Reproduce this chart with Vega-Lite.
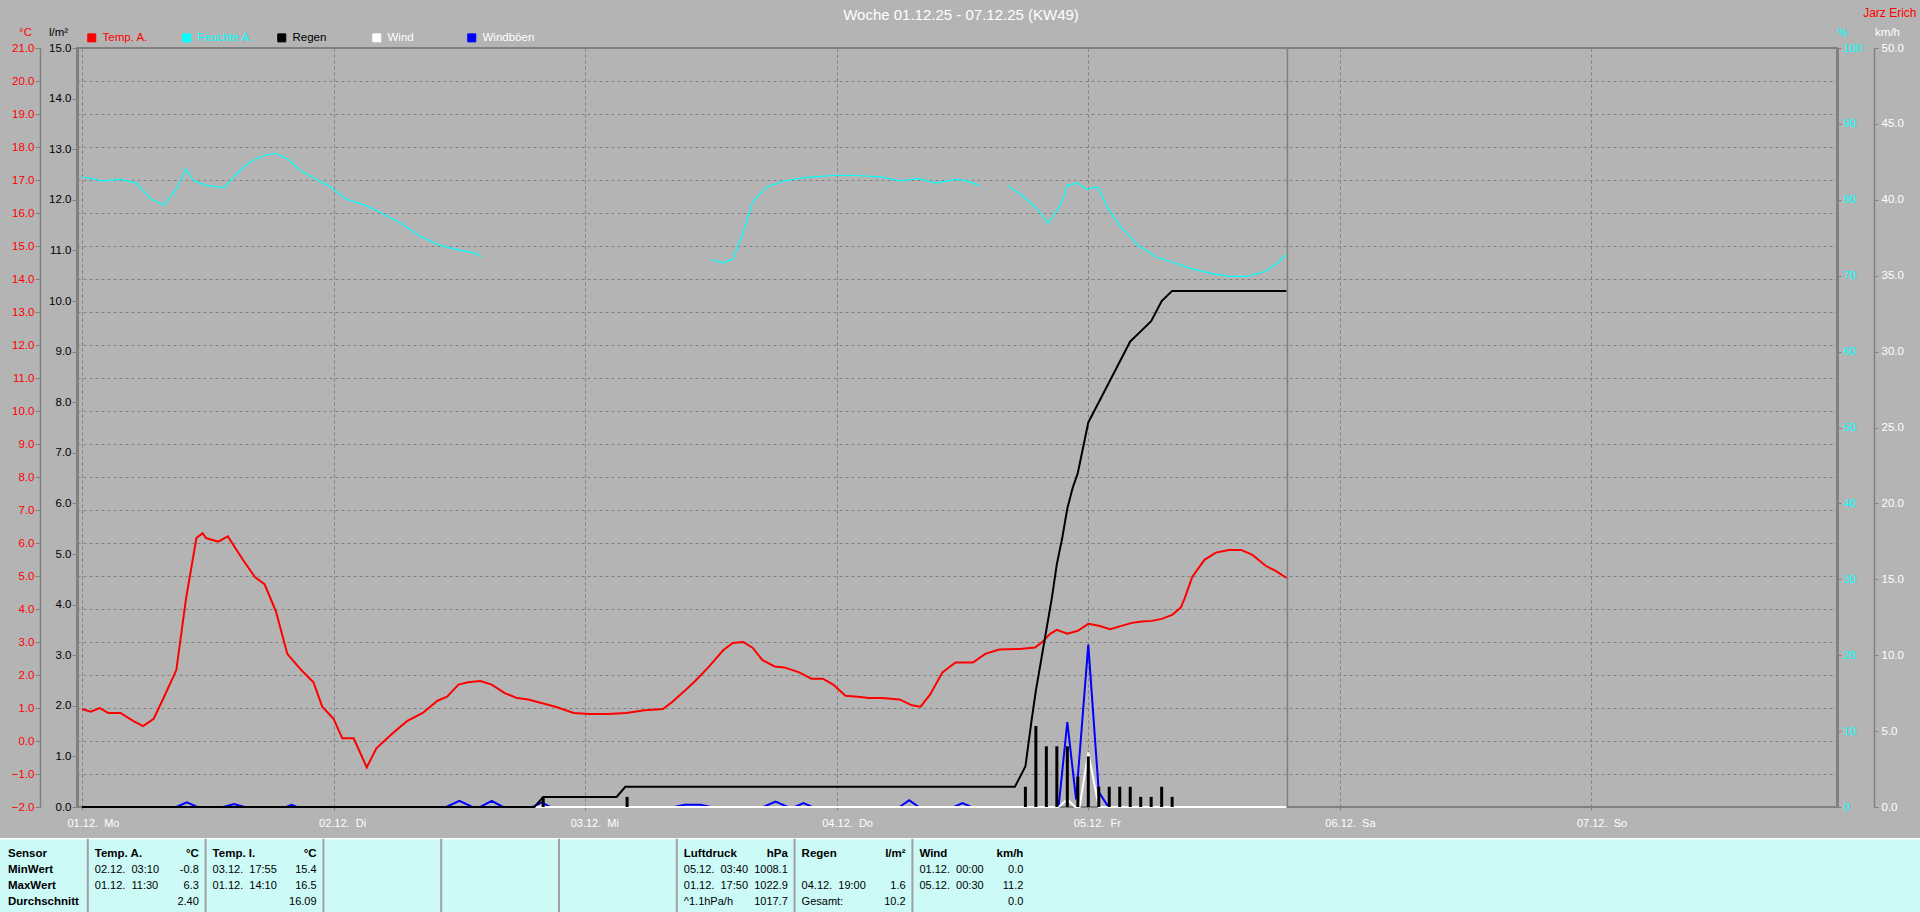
{
  "$schema": "https://vega.github.io/schema/vega-lite/v6.json",
  "width": 1760,
  "height": 759,
  "autosize": "none",
  "padding": {"left": 77, "top": 48, "right": 83, "bottom": 105},
  "background": "#B4B4B4",
  "title": {
    "text": "Woche 01.12.25 - 07.12.25 (KW49)",
    "color": "#FFFFFF", "font": "Liberation Sans", "fontSize": 15, "fontWeight": "normal",
    "anchor": "middle", "frame": "group", "dx": 4, "offset": -17
  },
  "config": {
    "font": "Liberation Sans",
    "view": {"stroke": "#808080", "strokeWidth": 2},
    "axis": {
      "domainColor": "#808080", "tickColor": "#808080", "gridColor": "#808080", "gridDash": [3, 3],
      "labelFont": "Liberation Sans", "labelFontSize": 11.5, "titleFont": "Liberation Sans", "titleFontSize": 11.5,
      "titleFontWeight": "normal", "grid": false
    }
  },
  "datasets": {
    "temp": [
      {"t":"2025-12-01T00:00:00Z","v":0.97},{"t":"2025-12-01T00:50:00Z","v":0.89},{"t":"2025-12-01T01:40:00Z","v":1.0},
      {"t":"2025-12-01T02:30:00Z","v":0.85},{"t":"2025-12-01T03:40:00Z","v":0.85},{"t":"2025-12-01T04:55:00Z","v":0.6},
      {"t":"2025-12-01T05:50:00Z","v":0.45},{"t":"2025-12-01T06:50:00Z","v":0.67},{"t":"2025-12-01T07:50:00Z","v":1.34},
      {"t":"2025-12-01T09:00:00Z","v":2.15},{"t":"2025-12-01T09:55:00Z","v":4.3},{"t":"2025-12-01T10:55:00Z","v":6.15},
      {"t":"2025-12-01T11:30:00Z","v":6.3},{"t":"2025-12-01T11:50:00Z","v":6.15},{"t":"2025-12-01T13:00:00Z","v":6.04},
      {"t":"2025-12-01T13:55:00Z","v":6.2},{"t":"2025-12-01T15:20:00Z","v":5.5},{"t":"2025-12-01T16:30:00Z","v":4.97},
      {"t":"2025-12-01T17:25:00Z","v":4.75},{"t":"2025-12-01T18:30:00Z","v":3.93},{"t":"2025-12-01T19:35:00Z","v":2.64},
      {"t":"2025-12-01T20:55:00Z","v":2.15},{"t":"2025-12-01T22:05:00Z","v":1.78},{"t":"2025-12-01T22:55:00Z","v":1.04},
      {"t":"2025-12-02T00:00:00Z","v":0.67},{"t":"2025-12-02T00:50:00Z","v":0.08},{"t":"2025-12-02T01:55:00Z","v":0.08},
      {"t":"2025-12-02T03:10:00Z","v":-0.8},{"t":"2025-12-02T04:05:00Z","v":-0.22},{"t":"2025-12-02T05:35:00Z","v":0.22},
      {"t":"2025-12-02T07:00:00Z","v":0.6},{"t":"2025-12-02T08:30:00Z","v":0.85},{"t":"2025-12-02T09:55:00Z","v":1.22},
      {"t":"2025-12-02T10:50:00Z","v":1.34},{"t":"2025-12-02T11:55:00Z","v":1.71},{"t":"2025-12-02T12:50:00Z","v":1.78},
      {"t":"2025-12-02T14:00:00Z","v":1.82},{"t":"2025-12-02T15:05:00Z","v":1.71},{"t":"2025-12-02T16:20:00Z","v":1.45},
      {"t":"2025-12-02T17:30:00Z","v":1.3},{"t":"2025-12-02T18:35:00Z","v":1.26},{"t":"2025-12-02T19:50:00Z","v":1.15},
      {"t":"2025-12-02T21:10:00Z","v":1.04},{"t":"2025-12-02T22:55:00Z","v":0.85},{"t":"2025-12-03T00:25:00Z","v":0.82},
      {"t":"2025-12-03T02:10:00Z","v":0.82},{"t":"2025-12-03T03:55:00Z","v":0.85},{"t":"2025-12-03T05:40:00Z","v":0.93},
      {"t":"2025-12-03T07:25:00Z","v":0.97},{"t":"2025-12-03T08:20:00Z","v":1.19},{"t":"2025-12-03T09:30:00Z","v":1.52},
      {"t":"2025-12-03T10:30:00Z","v":1.82},{"t":"2025-12-03T11:50:00Z","v":2.26},{"t":"2025-12-03T13:10:00Z","v":2.75},
      {"t":"2025-12-03T14:05:00Z","v":2.97},{"t":"2025-12-03T15:05:00Z","v":3.0},{"t":"2025-12-03T16:00:00Z","v":2.82},
      {"t":"2025-12-03T16:55:00Z","v":2.45},{"t":"2025-12-03T18:05:00Z","v":2.26},{"t":"2025-12-03T19:00:00Z","v":2.23},
      {"t":"2025-12-03T20:25:00Z","v":2.08},{"t":"2025-12-03T21:35:00Z","v":1.89},{"t":"2025-12-03T22:40:00Z","v":1.89},
      {"t":"2025-12-03T23:40:00Z","v":1.71},{"t":"2025-12-04T00:50:00Z","v":1.37},{"t":"2025-12-04T02:00:00Z","v":1.34},
      {"t":"2025-12-04T03:05:00Z","v":1.3},{"t":"2025-12-04T04:20:00Z","v":1.3},{"t":"2025-12-04T06:00:00Z","v":1.26},
      {"t":"2025-12-04T07:10:00Z","v":1.08},{"t":"2025-12-04T08:00:00Z","v":1.04},{"t":"2025-12-04T08:55:00Z","v":1.41},
      {"t":"2025-12-04T10:05:00Z","v":2.08},{"t":"2025-12-04T11:20:00Z","v":2.38},{"t":"2025-12-04T13:00:00Z","v":2.38},
      {"t":"2025-12-04T14:10:00Z","v":2.64},{"t":"2025-12-04T15:30:00Z","v":2.77},{"t":"2025-12-04T17:25:00Z","v":2.79},
      {"t":"2025-12-04T18:55:00Z","v":2.83},{"t":"2025-12-04T19:35:00Z","v":2.99},{"t":"2025-12-04T20:20:00Z","v":3.24},
      {"t":"2025-12-04T21:00:00Z","v":3.37},{"t":"2025-12-04T22:00:00Z","v":3.25},{"t":"2025-12-04T23:00:00Z","v":3.34},
      {"t":"2025-12-05T00:00:00Z","v":3.55},{"t":"2025-12-05T01:00:00Z","v":3.49},{"t":"2025-12-05T02:05:00Z","v":3.39},
      {"t":"2025-12-05T03:05:00Z","v":3.48},{"t":"2025-12-05T04:10:00Z","v":3.58},{"t":"2025-12-05T05:05:00Z","v":3.62},
      {"t":"2025-12-05T06:05:00Z","v":3.64},{"t":"2025-12-05T07:00:00Z","v":3.7},{"t":"2025-12-05T08:00:00Z","v":3.82},
      {"t":"2025-12-05T08:50:00Z","v":4.05},{"t":"2025-12-05T09:10:00Z","v":4.3},{"t":"2025-12-05T09:55:00Z","v":4.97},
      {"t":"2025-12-05T11:05:00Z","v":5.49},{"t":"2025-12-05T12:10:00Z","v":5.71},{"t":"2025-12-05T13:25:00Z","v":5.79},
      {"t":"2025-12-05T14:35:00Z","v":5.79},{"t":"2025-12-05T15:40:00Z","v":5.64},{"t":"2025-12-05T16:55:00Z","v":5.31},
      {"t":"2025-12-05T17:50:00Z","v":5.16},{"t":"2025-12-05T18:55:00Z","v":4.94}
    ],
    "hum": [
      {"t":"2025-12-01T00:00:00Z","v":83.0,"s":1},{"t":"2025-12-01T02:00:00Z","v":82.5,"s":1},{"t":"2025-12-01T03:40:00Z","v":82.7,"s":1},
      {"t":"2025-12-01T05:10:00Z","v":82.2,"s":1},{"t":"2025-12-01T06:35:00Z","v":80.1,"s":1},{"t":"2025-12-01T07:50:00Z","v":79.3,"s":1},
      {"t":"2025-12-01T09:00:00Z","v":81.4,"s":1},{"t":"2025-12-01T09:55:00Z","v":84.1,"s":1},{"t":"2025-12-01T10:40:00Z","v":82.5,"s":1},
      {"t":"2025-12-01T11:50:00Z","v":81.9,"s":1},{"t":"2025-12-01T13:35:00Z","v":81.6,"s":1},{"t":"2025-12-01T14:40:00Z","v":83.3,"s":1},
      {"t":"2025-12-01T15:55:00Z","v":84.9,"s":1},{"t":"2025-12-01T17:25:00Z","v":85.9,"s":1},{"t":"2025-12-01T18:30:00Z","v":86.1,"s":1},
      {"t":"2025-12-01T19:35:00Z","v":85.4,"s":1},{"t":"2025-12-01T20:55:00Z","v":83.8,"s":1},{"t":"2025-12-01T22:20:00Z","v":82.7,"s":1},
      {"t":"2025-12-01T23:30:00Z","v":81.9,"s":1},{"t":"2025-12-02T01:10:00Z","v":80.1,"s":1},{"t":"2025-12-02T03:00:00Z","v":79.3,"s":1},
      {"t":"2025-12-02T04:40:00Z","v":78.2,"s":1},{"t":"2025-12-02T06:25:00Z","v":76.9,"s":1},{"t":"2025-12-02T08:10:00Z","v":75.3,"s":1},
      {"t":"2025-12-02T09:55:00Z","v":74.1,"s":1},{"t":"2025-12-02T11:35:00Z","v":73.5,"s":1},{"t":"2025-12-02T13:25:00Z","v":73.0,"s":1},
      {"t":"2025-12-02T14:05:00Z","v":72.5,"s":1},
      {"t":"2025-12-03T12:00:00Z","v":72.1,"s":2},{"t":"2025-12-03T13:10:00Z","v":71.7,"s":2},{"t":"2025-12-03T14:05:00Z","v":72.2,"s":2},
      {"t":"2025-12-03T15:05:00Z","v":75.7,"s":2},{"t":"2025-12-03T16:00:00Z","v":79.8,"s":2},{"t":"2025-12-03T17:20:00Z","v":81.7,"s":2},
      {"t":"2025-12-03T19:00:00Z","v":82.5,"s":2},{"t":"2025-12-03T21:20:00Z","v":83.0,"s":2},{"t":"2025-12-03T23:40:00Z","v":83.2,"s":2},
      {"t":"2025-12-04T02:00:00Z","v":83.2,"s":2},{"t":"2025-12-04T04:20:00Z","v":83.0,"s":2},{"t":"2025-12-04T06:00:00Z","v":82.5,"s":2},
      {"t":"2025-12-04T07:50:00Z","v":82.8,"s":2},{"t":"2025-12-04T09:30:00Z","v":82.2,"s":2},{"t":"2025-12-04T11:20:00Z","v":82.7,"s":2},
      {"t":"2025-12-04T12:25:00Z","v":82.5,"s":2},{"t":"2025-12-04T13:35:00Z","v":81.9,"s":2},
      {"t":"2025-12-04T16:20:00Z","v":81.9,"s":3},{"t":"2025-12-04T17:40:00Z","v":80.6,"s":3},{"t":"2025-12-04T19:10:00Z","v":78.7,"s":3},
      {"t":"2025-12-04T20:10:00Z","v":76.9,"s":3},{"t":"2025-12-04T21:20:00Z","v":79.3,"s":3},{"t":"2025-12-04T22:00:00Z","v":81.9,"s":3},
      {"t":"2025-12-04T22:55:00Z","v":82.2,"s":3},{"t":"2025-12-04T23:50:00Z","v":81.4,"s":3},{"t":"2025-12-05T00:55:00Z","v":81.7,"s":3},
      {"t":"2025-12-05T01:50:00Z","v":79.0,"s":3},{"t":"2025-12-05T03:00:00Z","v":76.6,"s":3},{"t":"2025-12-05T04:40:00Z","v":74.1,"s":3},
      {"t":"2025-12-05T06:25:00Z","v":72.5,"s":3},{"t":"2025-12-05T08:10:00Z","v":71.7,"s":3},{"t":"2025-12-05T09:55:00Z","v":70.9,"s":3},
      {"t":"2025-12-05T11:40:00Z","v":70.3,"s":3},{"t":"2025-12-05T13:25:00Z","v":69.9,"s":3},{"t":"2025-12-05T15:10:00Z","v":69.9,"s":3},
      {"t":"2025-12-05T16:55:00Z","v":70.6,"s":3},{"t":"2025-12-05T18:05:00Z","v":71.7,"s":3},{"t":"2025-12-05T18:55:00Z","v":72.8,"s":3}
    ],
    "raincum": [
      {"t":"2025-12-01T00:00:00Z","v":0},{"t":"2025-12-02T19:10:00Z","v":0},{"t":"2025-12-02T20:00:00Z","v":0.2},
      {"t":"2025-12-03T03:00:00Z","v":0.2},{"t":"2025-12-03T03:50:00Z","v":0.4},{"t":"2025-12-04T17:00:00Z","v":0.4},
      {"t":"2025-12-04T18:00:00Z","v":0.8},{"t":"2025-12-04T18:35:00Z","v":1.7},{"t":"2025-12-04T19:00:00Z","v":2.3},
      {"t":"2025-12-04T19:30:00Z","v":2.9},{"t":"2025-12-04T20:00:00Z","v":3.5},{"t":"2025-12-04T20:30:00Z","v":4.1},
      {"t":"2025-12-04T21:00:00Z","v":4.8},{"t":"2025-12-04T21:30:00Z","v":5.3},{"t":"2025-12-04T22:00:00Z","v":5.9},
      {"t":"2025-12-04T22:30:00Z","v":6.3},{"t":"2025-12-04T23:00:00Z","v":6.6},{"t":"2025-12-04T23:30:00Z","v":7.1},
      {"t":"2025-12-05T00:00:00Z","v":7.6},{"t":"2025-12-05T01:00:00Z","v":8.0},{"t":"2025-12-05T02:00:00Z","v":8.4},
      {"t":"2025-12-05T03:00:00Z","v":8.8},{"t":"2025-12-05T04:00:00Z","v":9.2},{"t":"2025-12-05T05:00:00Z","v":9.4},
      {"t":"2025-12-05T06:00:00Z","v":9.6},{"t":"2025-12-05T07:00:00Z","v":10.0},{"t":"2025-12-05T08:00:00Z","v":10.2},
      {"t":"2025-12-05T18:55:00Z","v":10.2}
    ],
    "rainbar": [
      {"t":"2025-12-02T20:00:00Z","v":0.2},{"t":"2025-12-03T04:00:00Z","v":0.2},{"t":"2025-12-04T18:00:00Z","v":0.4},
      {"t":"2025-12-04T19:00:00Z","v":1.6},{"t":"2025-12-04T20:00:00Z","v":1.2},{"t":"2025-12-04T21:00:00Z","v":1.2},
      {"t":"2025-12-04T22:00:00Z","v":1.2},{"t":"2025-12-04T23:00:00Z","v":0.6},{"t":"2025-12-05T00:00:00Z","v":1.0},
      {"t":"2025-12-05T01:00:00Z","v":0.4},{"t":"2025-12-05T02:00:00Z","v":0.4},{"t":"2025-12-05T03:00:00Z","v":0.4},
      {"t":"2025-12-05T04:00:00Z","v":0.4},{"t":"2025-12-05T05:00:00Z","v":0.2},{"t":"2025-12-05T06:00:00Z","v":0.2},
      {"t":"2025-12-05T07:00:00Z","v":0.4},{"t":"2025-12-05T08:00:00Z","v":0.2}
    ],
    "wind": [
      {"t":"2025-12-01T00:00:00Z","v":0},{"t":"2025-12-04T21:10:00Z","v":0},{"t":"2025-12-04T22:00:00Z","v":0.5},
      {"t":"2025-12-04T22:45:00Z","v":0},{"t":"2025-12-04T23:10:00Z","v":0},{"t":"2025-12-05T00:00:00Z","v":3.6},
      {"t":"2025-12-05T01:00:00Z","v":0},{"t":"2025-12-05T18:55:00Z","v":0}
    ],
    "gust": [
      {"t":"2025-12-01T00:00:00Z","v":0},{"t":"2025-12-01T09:00:00Z","v":0},{"t":"2025-12-01T10:00:00Z","v":0.3},
      {"t":"2025-12-01T11:00:00Z","v":0},{"t":"2025-12-01T13:30:00Z","v":0},{"t":"2025-12-01T14:30:00Z","v":0.2},
      {"t":"2025-12-01T15:30:00Z","v":0},{"t":"2025-12-01T19:30:00Z","v":0},{"t":"2025-12-01T20:00:00Z","v":0.15},
      {"t":"2025-12-01T20:30:00Z","v":0},{"t":"2025-12-02T10:45:00Z","v":0},{"t":"2025-12-02T12:00:00Z","v":0.4},
      {"t":"2025-12-02T13:15:00Z","v":0},{"t":"2025-12-02T14:00:00Z","v":0},{"t":"2025-12-02T15:05:00Z","v":0.4},
      {"t":"2025-12-02T16:10:00Z","v":0},{"t":"2025-12-02T19:00:00Z","v":0},{"t":"2025-12-02T19:50:00Z","v":0.3},
      {"t":"2025-12-02T20:40:00Z","v":0},{"t":"2025-12-03T08:30:00Z","v":0},{"t":"2025-12-03T09:30:00Z","v":0.15},
      {"t":"2025-12-03T11:00:00Z","v":0.15},{"t":"2025-12-03T12:00:00Z","v":0},{"t":"2025-12-03T17:00:00Z","v":0},
      {"t":"2025-12-03T18:10:00Z","v":0.35},{"t":"2025-12-03T19:20:00Z","v":0},{"t":"2025-12-03T20:00:00Z","v":0},
      {"t":"2025-12-03T20:50:00Z","v":0.25},{"t":"2025-12-03T21:40:00Z","v":0},{"t":"2025-12-04T06:00:00Z","v":0},
      {"t":"2025-12-04T06:55:00Z","v":0.45},{"t":"2025-12-04T07:50:00Z","v":0},{"t":"2025-12-04T11:10:00Z","v":0},
      {"t":"2025-12-04T12:00:00Z","v":0.25},{"t":"2025-12-04T12:50:00Z","v":0},{"t":"2025-12-04T21:10:00Z","v":0},
      {"t":"2025-12-04T22:00:00Z","v":5.6},{"t":"2025-12-04T22:50:00Z","v":0.5},{"t":"2025-12-05T00:00:00Z","v":10.7},
      {"t":"2025-12-05T01:00:00Z","v":1.0},{"t":"2025-12-05T01:55:00Z","v":0},{"t":"2025-12-05T18:55:00Z","v":0}
    ],
    "now": [{"t":"2025-12-05T19:00:00Z"}],
    "table": [
      {"col":0,"row":0,"left":"Sensor","right":""},{"col":0,"row":1,"left":"MinWert","right":""},
      {"col":0,"row":2,"left":"MaxWert","right":""},{"col":0,"row":3,"left":"Durchschnitt","right":""},
      {"col":1,"row":0,"left":"Temp. A.","right":"°C"},{"col":1,"row":1,"left":"02.12.\u00a0 03:10","right":"-0.8"},
      {"col":1,"row":2,"left":"01.12.\u00a0 11:30","right":"6.3"},{"col":1,"row":3,"left":"","right":"2.40"},
      {"col":2,"row":0,"left":"Temp. I.","right":"°C"},{"col":2,"row":1,"left":"03.12.\u00a0 17:55","right":"15.4"},
      {"col":2,"row":2,"left":"01.12.\u00a0 14:10","right":"16.5"},{"col":2,"row":3,"left":"","right":"16.09"},
      {"col":6,"row":0,"left":"Luftdruck","right":"hPa"},{"col":6,"row":1,"left":"05.12.\u00a0 03:40","right":"1008.1"},
      {"col":6,"row":2,"left":"01.12.\u00a0 17:50","right":"1022.9"},{"col":6,"row":3,"left":"^1.1hPa/h","right":"1017.7"},
      {"col":7,"row":0,"left":"Regen","right":"l/m²"},{"col":7,"row":1,"left":"","right":""},
      {"col":7,"row":2,"left":"04.12.\u00a0 19:00","right":"1.6"},{"col":7,"row":3,"left":"Gesamt:","right":"10.2"},
      {"col":8,"row":0,"left":"Wind","right":"km/h"},{"col":8,"row":1,"left":"01.12.\u00a0 00:00","right":"0.0"},
      {"col":8,"row":2,"left":"05.12.\u00a0 00:30","right":"11.2"},{"col":8,"row":3,"left":"","right":"0.0"}
    ],
    "dividers": [{"col":1},{"col":2},{"col":3},{"col":4},{"col":5},{"col":6},{"col":7},{"col":8}]
  },
  "layer": [
    {
      "layer": [
        {
          "data": {"name": "hum"},
          "mark": {"type": "line", "strokeWidth": 1.2},
          "encoding": {
            "x": {
              "field": "t", "type": "temporal",
              "scale": {"type": "utc", "domain": [{"year":2025,"month":12,"date":1,"utc":true}, {"year":2025,"month":12,"date":7,"hours":22,"minutes":57,"utc":true}]},
              "axis": {
                "orient": "bottom", "title": null, "domain": false, "grid": true, "gridDash": [3, 3],
                "values": [
                  {"year":2025,"month":12,"date":1,"utc":true},{"year":2025,"month":12,"date":2,"utc":true},
                  {"year":2025,"month":12,"date":3,"utc":true},{"year":2025,"month":12,"date":4,"utc":true},
                  {"year":2025,"month":12,"date":5,"utc":true},{"year":2025,"month":12,"date":6,"utc":true},
                  {"year":2025,"month":12,"date":7,"utc":true}
                ],
                "labelExpr": "utcFormat(datum.value, '%d.%m.') + '\u00a0 ' + ['So','Mo','Di','Mi','Do','Fr','Sa'][utcday(datum.value)]",
                "labelColor": "#FFFFFF", "labelAlign": "left", "labelOffset": -15, "labelBaseline": "middle",
                "labelFontSize": 11,
                "labelPadding": 11, "tickSize": 5, "tickDash": [3, 3], "labelFlush": false, "labelOverlap": false
              }
            },
            "y": {
              "field": "v", "type": "quantitative",
              "scale": {"domain": [0, 100], "zero": false, "nice": false},
              "axis": {
                "orient": "right", "offset": 0, "values": [0,10,20,30,40,50,60,70,80,90,100], "format": "d",
                "labelColor": "#00FFFF", "tickSize": 4, "labelPadding": 2, "domainWidth": 3,
                "title": "%", "titleColor": "#00FFFF", "titleAngle": 0, "titleX": 5, "titleY": -16,
                "titleAlign": "center", "titleBaseline": "middle"
              }
            },
            "detail": {"field": "s", "type": "nominal"},
            "color": {
              "datum": "Feuchte A.", "type": "nominal",
              "scale": {"domain": ["Temp. A.", "Feuchte A.", "Regen", "Wind", "Windböen"], "range": ["#FF0000", "#00FFFF", "#000000", "#FFFFFF", "#0000FF"]},
              "legend": {
                "orient": "none", "legendX": 9, "legendY": -16, "direction": "horizontal", "title": null,
                "symbolType": "square", "symbolSize": 64, "symbolStrokeWidth": 1, "symbolOpacity": 1,
                "labelFont": "Liberation Sans", "labelFontSize": 11.5, "labelOffset": 5,
                "columnPadding": 21, "gridAlign": "all", "padding": 0,
                "encoding": {
                  "symbols": {
                    "fill": {"condition": [
                      {"test": "datum.value === 'Temp. A.'", "value": "#FF0000"},
                      {"test": "datum.value === 'Feuchte A.'", "value": "#00FFFF"},
                      {"test": "datum.value === 'Regen'", "value": "#000000"},
                      {"test": "datum.value === 'Wind'", "value": "#FFFFFF"}
                    ], "value": "#0000FF"},
                    "stroke": {"value": "#FFFFFF"},
                    "strokeWidth": {"value": 1}
                  },
                  "labels": {
                    "fill": {"condition": [
                      {"test": "datum.value === 'Temp. A.'", "value": "#FF0000"},
                      {"test": "datum.value === 'Feuchte A.'", "value": "#00FFFF"},
                      {"test": "datum.value === 'Regen'", "value": "#000000"}
                    ], "value": "#FFFFFF"}
                  }
                }
              }
            }
          }
        },
        {
          "data": {"name": "temp"},
          "mark": {"type": "line", "strokeWidth": 2},
          "encoding": {
            "x": {"field": "t", "type": "temporal"},
            "y": {
              "field": "v", "type": "quantitative",
              "scale": {"domain": [-2, 21], "zero": false, "nice": false},
              "axis": {
                "orient": "left", "offset": 37,
                "values": [-2,-1,0,1,2,3,4,5,6,7,8,9,10,11,12,13,14,15,16,17,18,19,20,21], "format": ".1f",
                "labelColor": "#FF0000", "tickSize": 5, "labelPadding": 1, "domainWidth": 1.5,
                "grid": true, "gridDash": [3, 3],
                "title": "°C", "titleColor": "#FF0000", "titleAngle": 0, "titleX": -15, "titleY": -16,
                "titleAlign": "center", "titleBaseline": "middle"
              }
            },
            "color": {"datum": "Temp. A.", "type": "nominal"}
          }
        },
        {
          "data": {"name": "gust"},
          "mark": {"type": "line", "strokeWidth": 2},
          "encoding": {
            "x": {"field": "t", "type": "temporal"},
            "y": {"field": "v", "type": "quantitative", "scale": {"domain": [0, 50], "nice": false}, "axis": null},
            "color": {"datum": "Windböen", "type": "nominal"}
          }
        },
        {
          "data": {"name": "wind"},
          "mark": {"type": "line", "strokeWidth": 2},
          "encoding": {
            "x": {"field": "t", "type": "temporal"},
            "y": {
              "field": "v", "type": "quantitative",
              "scale": {"domain": [0, 50], "nice": false},
              "axis": {
                "orient": "right", "offset": 37, "values": [0,5,10,15,20,25,30,35,40,45,50], "format": ".1f",
                "labelColor": "#FFFFFF", "tickSize": 4, "labelPadding": 3, "domainWidth": 1.5,
                "title": "km/h", "titleColor": "#FFFFFF", "titleAngle": 0, "titleX": 13, "titleY": -16,
                "titleAlign": "center", "titleBaseline": "middle"
              }
            },
            "color": {"datum": "Wind", "type": "nominal"}
          }
        },
        {
          "data": {"name": "rainbar"},
          "mark": {"type": "bar", "size": 3},
          "encoding": {
            "x": {"field": "t", "type": "temporal"},
            "y": {
              "field": "v", "type": "quantitative",
              "scale": {"domain": [0, 15], "nice": false},
              "axis": {
                "orient": "left", "offset": 0,
                "values": [0,1,2,3,4,5,6,7,8,9,10,11,12,13,14,15], "format": ".1f",
                "labelColor": "#000000", "tickSize": 5, "labelPadding": 1, "domainWidth": 3,
                "title": "l/m²", "titleColor": "#000000", "titleAngle": 0, "titleX": -19, "titleY": -16,
                "titleAlign": "center", "titleBaseline": "middle"
              }
            },
            "color": {"datum": "Regen", "type": "nominal"}
          }
        },
        {
          "data": {"name": "raincum"},
          "mark": {"type": "line", "strokeWidth": 2},
          "encoding": {
            "x": {"field": "t", "type": "temporal"},
            "y": {"field": "v", "type": "quantitative", "scale": {"domain": [0, 15], "nice": false}, "axis": null},
            "color": {"datum": "Regen", "type": "nominal"}
          }
        },
        {
          "data": {"name": "now"},
          "mark": {"type": "rule", "color": "#808080", "strokeWidth": 1.5},
          "encoding": {"x": {"field": "t", "type": "temporal"}}
        }
      ],
      "resolve": {"scale": {"y": "independent"}}
    },
    {
      "layer": [
        {
          "data": {"values": [{"part": "table"}]},
          "mark": {"type": "rect", "fill": "#CCFAF7", "stroke": "#FFFFFF", "strokeWidth": 1.5},
          "encoding": {
            "x": {
              "datum": 0.2, "type": "quantitative",
              "scale": {"domain": [1, 8], "range": [10.8, 835.4], "zero": false, "nice": false},
              "axis": {
                "orient": "top", "domain": false, "ticks": false, "labels": false, "grid": false,
                "title": "Jarz Erich", "titleColor": "#FF0000", "titleFontSize": 12, "titleFontWeight": "normal",
                "titleX": 1839, "titleY": -36, "titleAlign": "right", "titleBaseline": "middle", "titleAngle": 0
              }
            },
            "x2": {"datum": 16.7},
            "y": {"datum": -0.91, "type": "quantitative", "scale": {"domain": [0, 3], "range": [805.5, 854.1], "zero": false, "nice": false}, "axis": null},
            "y2": {"datum": 4.5}
          }
        },
        {
          "data": {"name": "dividers"},
          "mark": {"type": "rule", "color": "#A0A0A0", "strokeWidth": 2},
          "encoding": {
            "x": {"field": "col", "type": "quantitative"},
            "y": {"datum": -0.91, "type": "quantitative"},
            "y2": {"datum": 4.5}
          }
        },
        {
          "data": {"name": "table"},
          "transform": [{"filter": "datum.col == 0"}],
          "mark": {"type": "text", "align": "left", "baseline": "middle", "dx": 38, "fontSize": 11.5, "fontWeight": "bold", "color": "#000000"},
          "encoding": {
            "x": {"field": "col", "type": "quantitative"},
            "y": {"field": "row", "type": "quantitative"},
            "text": {"field": "left"}
          }
        },
        {
          "data": {"name": "table"},
          "transform": [{"filter": "datum.col > 0 && datum.row == 0"}],
          "mark": {"type": "text", "align": "left", "baseline": "middle", "dx": 7, "fontSize": 11.5, "fontWeight": "bold", "color": "#000000"},
          "encoding": {
            "x": {"field": "col", "type": "quantitative"},
            "y": {"field": "row", "type": "quantitative"},
            "text": {"field": "left"}
          }
        },
        {
          "data": {"name": "table"},
          "transform": [{"filter": "datum.col > 0 && datum.row == 0"}],
          "mark": {"type": "text", "align": "right", "baseline": "middle", "dx": 111, "fontSize": 11.5, "fontWeight": "bold", "color": "#000000"},
          "encoding": {
            "x": {"field": "col", "type": "quantitative"},
            "y": {"field": "row", "type": "quantitative"},
            "text": {"field": "right"}
          }
        },
        {
          "data": {"name": "table"},
          "transform": [{"filter": "datum.col > 0 && datum.row > 0"}],
          "mark": {"type": "text", "align": "left", "baseline": "middle", "dx": 7, "fontSize": 11, "color": "#000000"},
          "encoding": {
            "x": {"field": "col", "type": "quantitative"},
            "y": {"field": "row", "type": "quantitative"},
            "text": {"field": "left"}
          }
        },
        {
          "data": {"name": "table"},
          "transform": [{"filter": "datum.col > 0 && datum.row > 0"}],
          "mark": {"type": "text", "align": "right", "baseline": "middle", "dx": 111, "fontSize": 11, "color": "#000000"},
          "encoding": {
            "x": {"field": "col", "type": "quantitative"},
            "y": {"field": "row", "type": "quantitative"},
            "text": {"field": "right"}
          }
        }
      ]
    }
  ],
  "resolve": {"scale": {"x": "independent", "y": "independent"}}
}
